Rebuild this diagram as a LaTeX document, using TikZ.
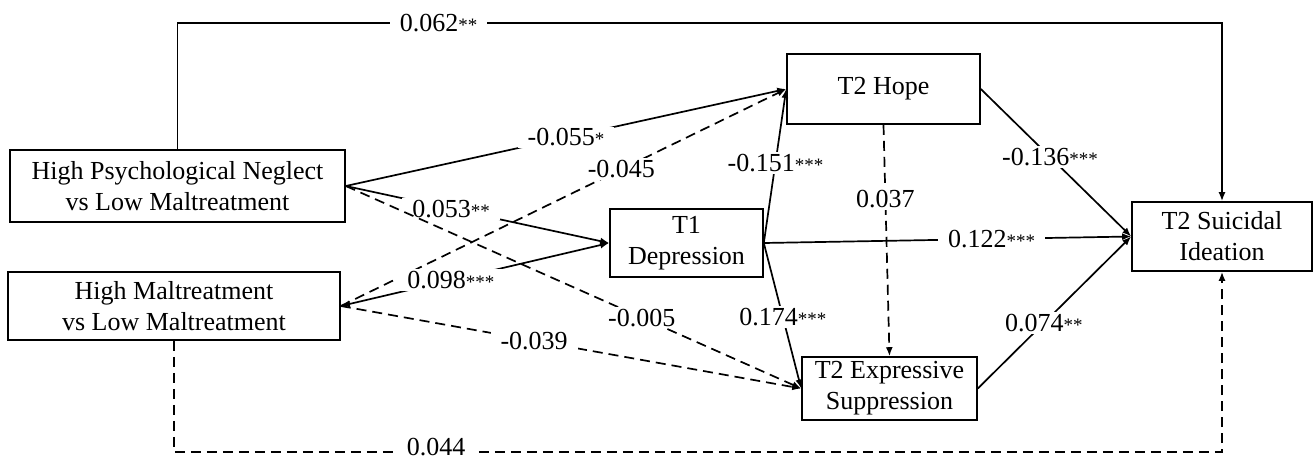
\documentclass[tikz,border=0pt]{standalone}
\usepackage{fontspec}
\setmainfont{Liberation Serif}
\usetikzlibrary{arrows.meta}
\newcommand{\sg}[1]{{\fontsize{9.5}{9.5}\selectfont#1}}
\begin{document}
\begin{tikzpicture}[x=0.5pt, y=-0.5pt, >={Latex[length=4.5pt,width=3.5pt]},
			font=\fontsize{13}{15.5}\selectfont,
			box/.style={draw, line width=0.8pt, inner sep=0pt, align=center},
			link/.style={line width=0.85pt},
			dlink/.style={link, dash pattern=on 5pt off 3pt},
			lbl/.style={fill=white, inner xsep=5pt, inner ysep=1pt}]
		\useasboundingbox (0,0) rectangle (1314,461);

		\node[box, minimum width=167.5pt, minimum height=36pt] (HPN) at (177.5,186) {High Psychological Neglect\\vs Low Maltreatment};
		\node[box, minimum width=166pt, minimum height=34pt] (HM) at (174,306) {High Maltreatment\\vs Low Maltreatment};
		\node[box, minimum width=76.5pt, minimum height=34pt] (T1) at (686.5,243) {T1\\Depression};
		\node[box, minimum width=96.5pt, minimum height=35pt] (Hope) at (883.5,89) {T2 Hope};
		\node[box, minimum width=87.5pt, minimum height=31.5pt] (ES) at (889.5,388.5) {T2 Expressive\\Suppression};
		\node[box, minimum width=90pt, minimum height=34.5pt] (SI) at (1222,236.5) {T2 Suicidal\\Ideation};
		\coordinate (top) at (0,23);
		\coordinate (bot) at (0,452);

		\draw[link, ->] (HPN.north) -- (HPN.north |- top) -- node[lbl, pos=0.25] {0.062\sg{**}} (SI.north |- top) -- (SI.north);
		\draw[dlink, ->] (HM.south) -- (HM.south |- bot) -- node[lbl, pos=0.25, yshift=2.5pt] {0.044} (SI.south |- bot) -- (SI.south);

		\draw[link, ->] (HPN.east) to node[lbl, pos=0.5] {-0.055\sg{*}} (Hope.west);
		\draw[dlink, ->] (HM.east) to node[lbl, pos=0.63] {-0.045} (Hope.west);
		\draw[link, ->] (T1.east) to node[lbl, pos=0.52] {-0.151\sg{***}} (Hope.west);

		\draw[link, ->] (HPN.east) to node[lbl, pos=0.4] {0.053\sg{**}} (T1.west);
		\draw[link, <->] (HM.east) to node[lbl, pos=0.41] {0.098\sg{***}} (T1.west);

		\draw[dlink, ->] (HPN.east) to node[lbl, pos=0.65] {-0.005} (ES.west);
		\draw[dlink, ->] (HM.east) to node[lbl, pos=0.42] {-0.039} (ES.west);
		\draw[link, ->] (T1.east) to node[lbl, pos=0.51] {0.174\sg{***}} (ES.west);
		\draw[dlink, ->] (Hope.south) to node[lbl, pos=0.32] {0.037} (ES.north);

		\draw[link, ->] (Hope.east) to node[lbl, pos=0.46] {-0.136\sg{***}} (SI.west);
		\draw[link, ->] (T1.east) to node[lbl, pos=0.62] {0.122\sg{***}} (SI.west);
		\draw[link, ->] (ES.east) to node[lbl, pos=0.43] {0.074\sg{**}} (SI.west);
	\end{tikzpicture}
\end{document}
